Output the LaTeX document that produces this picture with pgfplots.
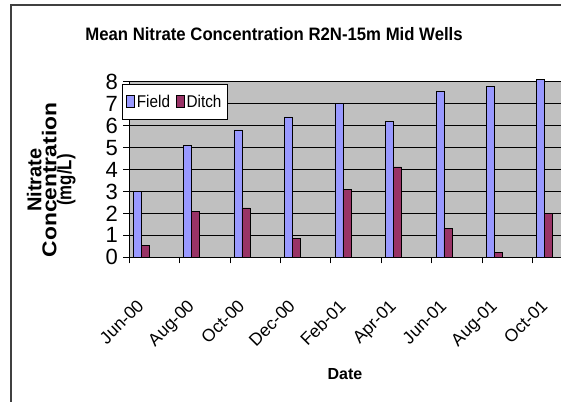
\documentclass[border=0pt]{standalone}
\usepackage{pgfplots}
\pgfplotsset{compat=1.18}
\usepackage{fontspec}
\setmainfont{Liberation Sans}

\definecolor{field}{HTML}{9999FF}
\definecolor{ditch}{HTML}{993366}
\definecolor{plotbg}{HTML}{C0C0C0}
\definecolor{frame}{HTML}{404040}

\begin{document}
\begin{tikzpicture}[x=1pt,y=1pt]
\useasboundingbox (0,0) rectangle (561,401);
% outer chart frame (left and top edges visible)
\draw[frame, line width=1.3pt] (11,-5) -- (11,396) -- (570,396);
\node[font=\fontsize{18}{20}\selectfont\bfseries] at (274,367)
  {\scalebox{0.93}[1]{Mean Nitrate Concentration R2N-15m Mid Wells}};

\begin{axis}[
    at={(129pt,143.7pt)}, anchor=south west,
    scale only axis,
    width=432pt, height=175.6pt,
    xmin=0, xmax=8.56,
    ymin=0, ymax=8,
    clip=false,
    axis background/.style={fill=plotbg},
    axis line style={black, line width=0.8pt},
    ybar, bar width=8pt,
    xtick={0,1,2,3,4,5,6,7,8},
    xticklabels={Jun-00,Aug-00,Oct-00,Dec-00,Feb-01,Apr-01,Jun-01,Aug-01,Oct-01},
    ytick={0,1,2,3,4,5,6,7,8},
    tick pos=left,
    tick align=outside,
    major tick length=6pt,
    tick style={black, line width=0.8pt},
    ymajorgrids,
    grid style={black, line width=0.7pt},
    /pgf/number format/assume math mode=true,
    yticklabel style={font=\fontsize{22}{24}\selectfont, inner sep=1pt, xshift=-4pt},
    xticklabel style={font=\fontsize{17.5}{19}\selectfont, inner sep=0pt,
        xshift=7pt, yshift=-35pt, rotate=45, anchor=north east},
    ylabel={Nitrate\\\scalebox{1.14}[1]{Concentration}\\\scalebox{0.84}[1]{(mg/L)}},
    ylabel style={font=\fontsize{20}{15}\selectfont\bfseries, align=center,
        at={(axis description cs:-0.18,0.44)}, anchor=center},
    xlabel={Date},
    xlabel style={font=\fontsize{16}{17}\selectfont\bfseries,
        at={(axis description cs:0.5,-0.665)}, anchor=center},
    legend columns=2,
    legend style={at={(rel axis cs:-0.016,0.987)}, anchor=north west,
        draw=black, fill=white, font=\fontsize{17}{19}\selectfont,
        inner xsep=4pt, inner ysep=8.5pt,
        /tikz/every even column/.append style={column sep=4pt}},
    legend image code/.code={\draw[#1, bar shift=0pt] (0pt,-6pt) rectangle (8pt,6pt);},
]
\addplot[fill=field, draw=black, line width=0.6pt, bar shift=8pt] coordinates {
    (0,3.0) (1,5.1) (2,5.8) (3,6.4) (4,7.0) (5,6.2) (6,7.57) (7,7.8) (8,8.1)
};
\addplot[fill=ditch, draw=black, line width=0.6pt, bar shift=16pt] coordinates {
    (0,0.55) (1,2.1) (2,2.25) (3,0.85) (4,3.1) (5,4.12) (6,1.32) (7,0.21) (8,2.0)
};
\legend{\scalebox{0.9}[1]{Field},\scalebox{0.9}[1]{Ditch}}
\end{axis}
\end{tikzpicture}
\end{document}
